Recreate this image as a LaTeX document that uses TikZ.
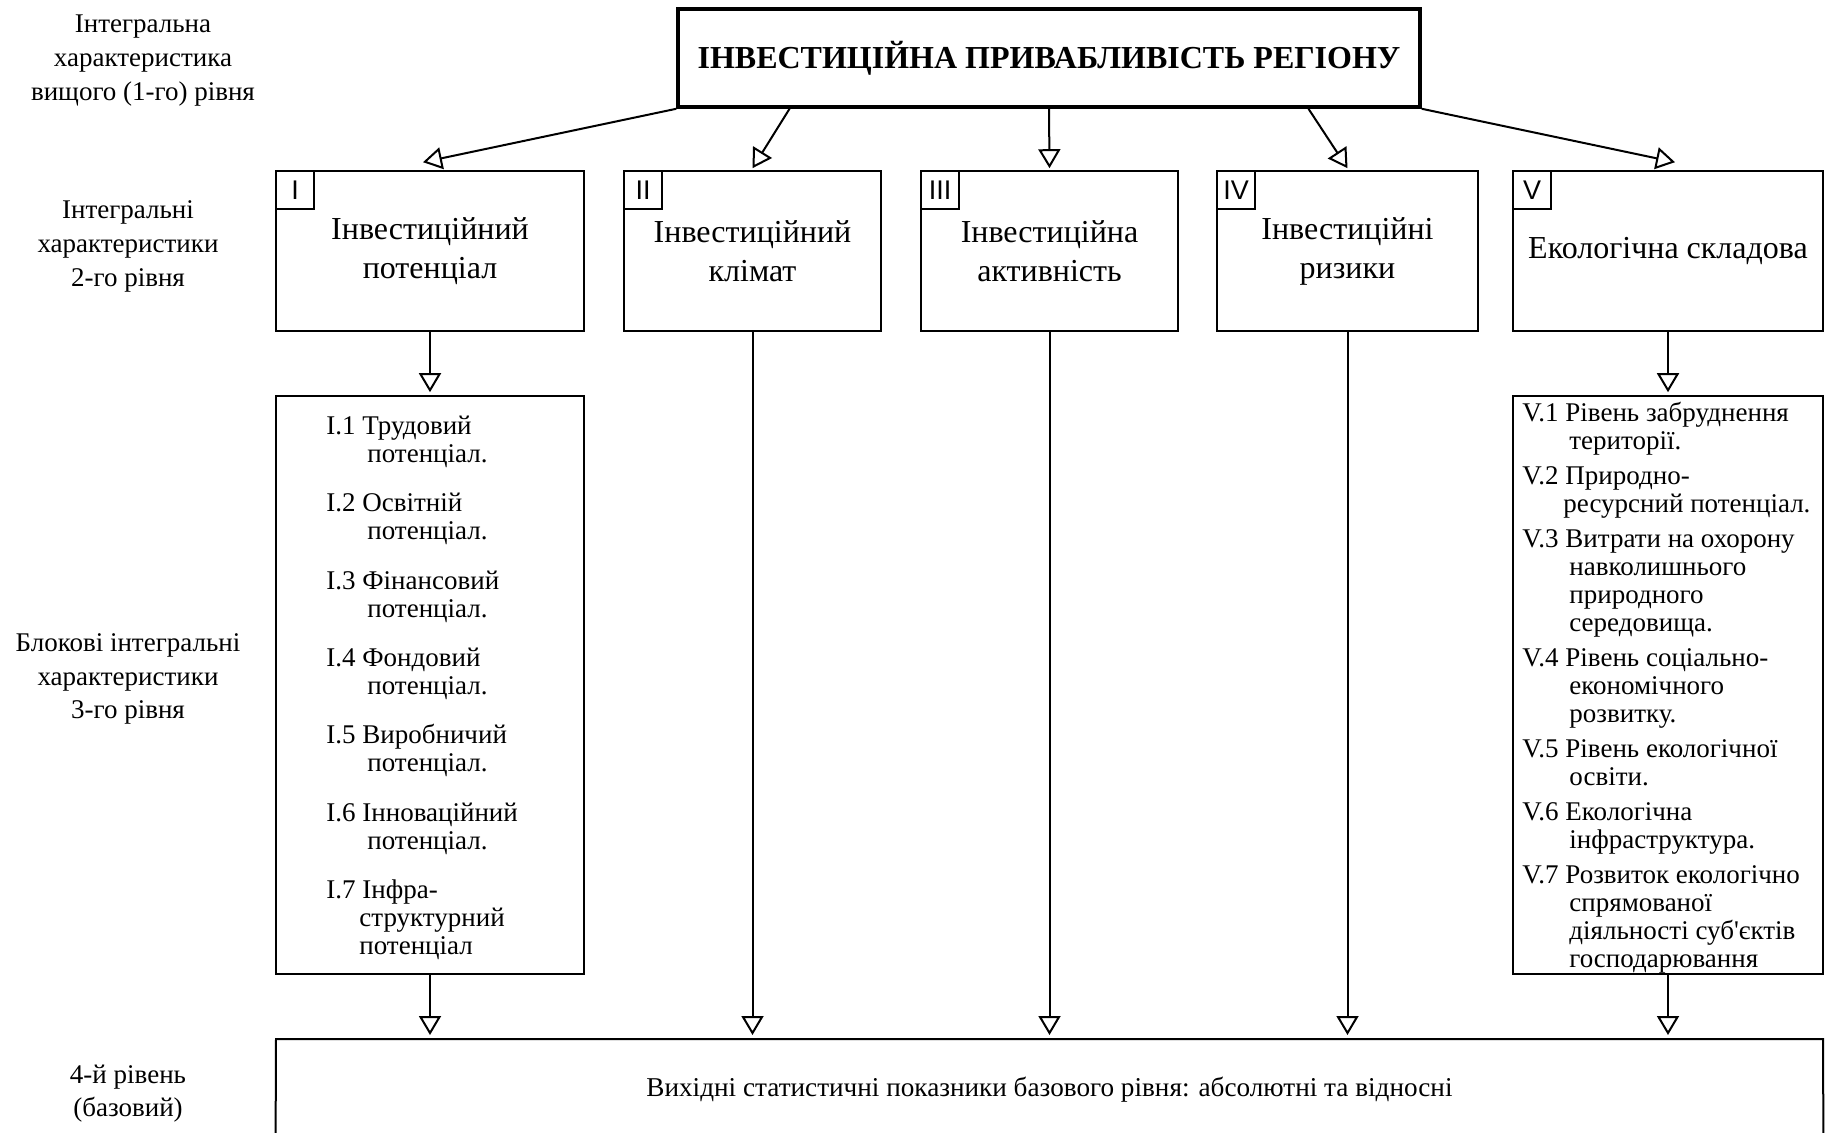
\documentclass[tikz,border=0pt]{standalone}
\usepackage{fontspec}
\setmainfont{Liberation Serif}
\newfontfamily\numfont{Liberation Sans}
\usetikzlibrary{arrows.meta,calc}

\begin{document}
\begin{tikzpicture}[x=0.5pt,y=-0.5pt,
  box/.style={draw, line width=0.8pt, inner sep=0pt},
  headbox/.style={box, line width=1.8pt, minimum width=371pt, minimum height=49pt,
    font=\bfseries\fontsize{16pt}{18pt}\selectfont},
  catbox/.style={box, minimum height=80pt, align=center,
    font=\fontsize{16pt}{19.5pt}\selectfont},
  numbox/.style={box, minimum width=19pt, minimum height=19pt, anchor=north west,
    font=\numfont\fontsize{13.5pt}{15pt}\selectfont},
  listbox/.style={box, minimum height=289pt},
  listtext/.style={anchor=north west, align=left, inner sep=0pt,
    font=\fontsize{13.5pt}{14pt}\selectfont},
  levellabel/.style={align=center, inner sep=0pt,
    font=\fontsize{13.5pt}{16.8pt}\selectfont},
  conn/.style={line width=1pt, -{Triangle[open, length=9.5pt, width=11pt, line width=1pt]}}
]
\useasboundingbox (0,0) rectangle (1825,1133);

% level captions on the left
\node[levellabel] (lab1) at (143,60.5) {Інтегральна\\характеристика\\вищого (1-го) рівня};
\node[levellabel] (lab2) at (128,246.5) {Інтегральні\\характеристики\\2-го рівня};
\node[levellabel] (lab3) at (128,679) {Блокові інтегральні\\характеристики\\3-го рівня};
\node[levellabel] (lab4) at (128,1093.5) {4-й рівень\\(базовий)};

% top level
\node[headbox] (top) at (1049,58) {ІНВЕСТИЦІЙНА ПРИВАБЛИВІСТЬ РЕГІОНУ};

% second level
\node[catbox, minimum width=154pt]   (b1) at (430,251)    {Інвестиційний\\потенціал};
\node[catbox, minimum width=128.5pt] (b2) at (752.5,251)  {Інвестиційний\\клімат};
\node[catbox, minimum width=128.5pt] (b3) at (1049.5,251) {Інвестиційна\\активність};
\node[catbox, minimum width=130.5pt] (b4) at (1347.5,251) {Інвестиційні\\ризики};
\node[catbox, minimum width=155pt]   (b5) at (1668,251)   {\raisebox{-1pt}{Екологічна складова}};

\node[numbox] (n1) at (b1.north west) {I};
\node[numbox] (n2) at (b2.north west) {II};
\node[numbox] (n3) at (b3.north west) {III};
\node[numbox] (n4) at (b4.north west) {IV};
\node[numbox] (n5) at (b5.north west) {V};

% third level
\node[listbox, minimum width=154pt] (l1) at (430,685) {};
\node[listbox, minimum width=155pt] (l5) at (1668,685) {};

\node[listtext] (t1) at (326,415.5) {%
I.1 Трудовий\\\hspace*{20.5pt}потенціал.\\[10.7pt]
I.2 Освітній\\\hspace*{20.5pt}потенціал.\\[10.7pt]
I.3 Фінансовий\\\hspace*{20.5pt}потенціал.\\[10.7pt]
I.4 Фондовий\\\hspace*{20.5pt}потенціал.\\[10.7pt]
I.5 Виробничий\\\hspace*{20.5pt}потенціал.\\[10.7pt]
I.6 Інноваційний\\\hspace*{20.5pt}потенціал.\\[10.7pt]
I.7 Інфра-\\\hspace*{16.5pt}структурний\\\hspace*{16.5pt}потенціал};

\node[listtext] (t5) at (1522,401.5) {%
V.1 Рівень забруднення\\\hspace*{23.5pt}території.\\[3.5pt]
V.2 Природно-\\\hspace*{20.5pt}ресурсний потенціал.\\[3.5pt]
V.3 Витрати на охорону\\\hspace*{23.5pt}навколишнього\\\hspace*{23.5pt}природного\\\hspace*{23.5pt}середовища.\\[3.5pt]
V.4 Рівень соціально-\\\hspace*{23.5pt}економічного\\\hspace*{23.5pt}розвитку.\\[3.5pt]
V.5 Рівень екологічної\\\hspace*{23.5pt}освіти.\\[3.5pt]
V.6 Екологічна\\\hspace*{23.5pt}інфраструктура.\\[3.5pt]
V.7 Розвиток екологічно\\\hspace*{23.5pt}спрямованої\\\hspace*{23.5pt}діяльності суб\textquotesingle єктів\\\hspace*{23.5pt}господарювання};

% base level (open at the bottom edge)
\node[inner sep=0pt, minimum width=773.5pt, minimum height=47pt,
      font=\fontsize{13.6pt}{16pt}\selectfont] (base) at (1049.5,1089.5)
  {Вихідні статистичні показники базового рівня: абсолютні та відносні};
\draw[line width=1pt] (base.south west) -- (276,1039) -- (1823,1039) -- (base.south east);

% connectors from the top box
\draw[conn] (top.south west) -- ($(b1.north)+(-7,-8)$);
\draw[conn] ($(top.south west)!0.152!(top.south east)$) -- ($(b2.north)+(0,-2)$);
\draw[conn] (top.south) -- ($(b3.north)+(0,-2)$);
\draw[conn] ($(top.south west)!0.848!(top.south east)$) -- ($(b4.north)+(0,-2)$);
\draw[conn] (top.south east) -- ($(b5.north)+(7,-8)$);

% connectors down to the third and base levels
\coordinate (baseTop) at (276,1039);
\draw[conn, shorten >=1.5pt] (b1.south) -- (l1.north);
\draw[conn, shorten >=1.5pt] (b5.south) -- (l5.north);
\draw[conn, shorten >=2pt] (l1.south) -- (l1.south |- baseTop);
\draw[conn, shorten >=2pt] (b2.south) -- (b2.south |- baseTop);
\draw[conn, shorten >=2pt] (b3.south) -- (b3.south |- baseTop);
\draw[conn, shorten >=2pt] (b4.south) -- (b4.south |- baseTop);
\draw[conn, shorten >=2pt] (l5.south) -- (l5.south |- baseTop);
\end{tikzpicture}
\end{document}
